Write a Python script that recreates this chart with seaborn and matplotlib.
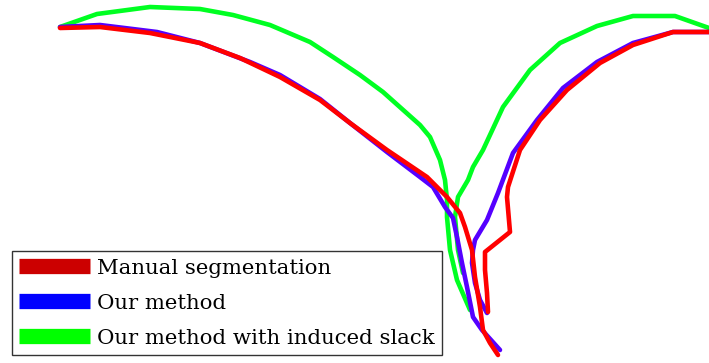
import pandas as pd
import numpy as np
import matplotlib.pyplot as plt
import seaborn as sns
from matplotlib.lines import Line2D

# Contour traces (image pixel coordinates), each method has a left and a right branch
red_left_x = [60, 100, 150, 200, 240, 280, 320, 350, 387, 427, 437, 447, 460, 465, 472, 475, 480, 483, 490, 498]
red_left_y = [28, 27, 33, 43, 58, 77, 100, 123, 150, 177, 187, 197, 213, 227, 250, 277, 307, 330, 343, 355]
red_right_x = [709, 673, 633, 600, 567, 540, 520, 508, 507, 510, 485, 485, 487, 488]
red_right_y = [32, 32, 45, 63, 90, 120, 150, 187, 197, 232, 252, 270, 293, 312]

blue_left_x = [60, 100, 157, 200, 250, 280, 320, 350, 387, 420, 433, 445, 453, 457, 462, 467, 473, 482, 500]
blue_left_y = [27, 25, 32, 43, 62, 75, 99, 123, 152, 177, 187, 207, 218, 237, 263, 287, 317, 330, 350]
blue_right_x = [709, 673, 633, 597, 563, 537, 513, 498, 487, 475, 473, 472, 475, 480, 487]
blue_right_y = [32, 32, 43, 62, 88, 120, 153, 193, 220, 240, 250, 263, 283, 300, 313]

green_left_x = [60, 97, 150, 200, 233, 270, 310, 333, 360, 383, 420, 430, 440, 445, 447, 447, 450, 457, 470]
green_left_y = [27, 14, 7, 9, 15, 25, 42, 57, 75, 92, 125, 137, 160, 180, 200, 217, 250, 280, 310]
green_right_x = [709, 675, 633, 597, 560, 530, 503, 483, 473, 468, 458, 455, 458, 463]
green_right_y = [28, 16, 16, 26, 43, 70, 107, 150, 167, 180, 197, 217, 250, 273]

labels = ["Manual segmentation", "Our method", "Our method with induced slack"]

rows = []
for name, branches in [
    (labels[0], [(red_left_x, red_left_y), (red_right_x, red_right_y)]),
    (labels[1], [(blue_left_x, blue_left_y), (blue_right_x, blue_right_y)]),
    (labels[2], [(green_left_x, green_left_y), (green_right_x, green_right_y)]),
]:
    for b, (xs, ys) in enumerate(branches):
        for i, (x, y) in enumerate(zip(xs, ys)):
            rows.append({"x": x, "y": y, "method": name, "branch": b, "order": i})
df = pd.DataFrame(rows)

sns.set_style("white")
plt.rcParams['font.family'] = ['DejaVu Serif']

fig = plt.figure(figsize=(7.09, 3.63), dpi=100)
ax = fig.add_axes([0, 0, 1, 1])

line_colors = {labels[0]: "#ff0000", labels[1]: "#5500ff", labels[2]: "#00ff22"}
# draw green first, then blue, then red on top
for name in [labels[2], labels[1], labels[0]]:
    sub = df[df["method"] == name]
    sns.lineplot(data=sub, x="x", y="y", units="branch", estimator=None, sort=False,
                 color=line_colors[name], linewidth=3.3, ax=ax, legend=False)

ax.set_xlim(0, 709)
ax.set_ylim(363, 0)
ax.axis("off")

legend_colors = ["#cc0000", "#0000ff", "#00ff00"]
handles = [Line2D([0], [0], color=c, linewidth=11, solid_capstyle="butt") for c in legend_colors]
leg = ax.legend(handles, labels, loc="lower left", bbox_to_anchor=(12 / 709, 8 / 363),
                bbox_transform=fig.transFigure, fontsize=15.3, frameon=True, fancybox=False,
                edgecolor="#333333", framealpha=1, handlelength=3.3, handletextpad=0.35,
                labelspacing=0.75, borderpad=0.35, borderaxespad=0, labelcolor="black")
leg.get_frame().set_linewidth(1.0)

plt.savefig("out.png", dpi=100)
